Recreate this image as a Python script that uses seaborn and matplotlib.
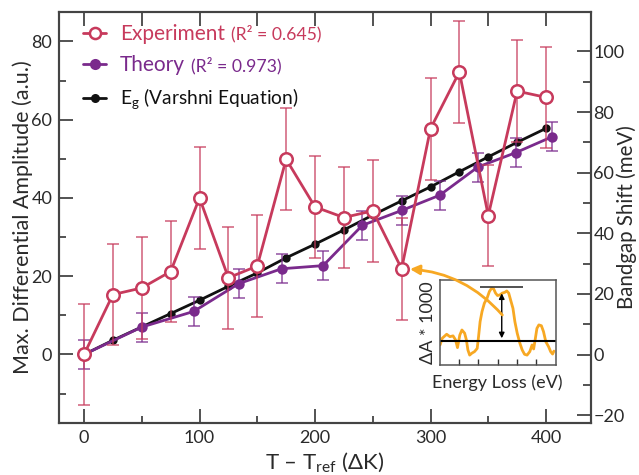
import matplotlib
matplotlib.use("Agg")
import matplotlib.pyplot as plt
import seaborn as sns
import pandas as pd
from matplotlib.lines import Line2D

# ---------------- data ----------------
temps = [0, 25, 50, 75, 100, 125, 150, 175, 200, 225, 250, 275, 300, 325, 350, 375, 400]
exp_amp = [0.0, 15.3, 17.0, 21.2, 40.0, 19.6, 22.6, 49.9, 37.7, 35.0, 36.7, 21.9, 57.7, 72.2, 35.5, 67.3, 65.7]
exp_err = [13.0, 13.0, 13.0, 13.0, 13.0, 13.0, 13.0, 13.0, 13.0, 13.0, 13.0, 13.0, 13.0, 13.0, 13.0, 13.0, 13.0]

theory_T = [0, 50, 95, 134, 171, 207, 241, 275, 308, 341, 374, 405]
theory_amp = [0.0, 7.0, 11.0, 18.1, 21.9, 22.7, 33.0, 36.8, 40.7, 47.9, 51.6, 55.6]
theory_err = [3.7, 3.7, 3.7, 3.7, 3.7, 3.7, 3.7, 3.7, 3.7, 3.7, 3.7, 3.7]

eg_shift = [0.0, 4.7, 9.1, 13.5, 17.9, 22.5, 26.9, 31.9, 36.4, 41.1, 46.0, 50.7, 55.3, 60.3, 65.2, 70.0, 74.6]

inset_E = [0.02, 0.13, 0.36, 0.53, 0.69, 0.82, 0.92, 1.04, 1.15, 1.29, 1.38, 1.46, 1.55, 1.66, 1.80,
           1.94, 2.01, 2.09, 2.19, 2.31, 2.45, 2.57, 2.68, 2.79, 2.89, 2.99, 3.11, 3.24, 3.37, 3.47,
           3.57, 3.67, 3.79, 3.89, 4.01, 4.15, 4.27, 4.39, 4.52, 4.66, 4.78, 4.86, 4.95, 5.03, 5.13,
           5.26, 5.37, 5.49, 5.63, 5.74, 5.84, 5.91]
inset_dA = [-0.16, 0.09, 0.24, 0.15, 0.18, 0.03, -0.26, 0.21, 0.40, 0.28, 0.03, -0.35, -0.54, -0.47, -0.41,
            -0.29, 0.15, 0.71, 1.09, 1.40, 1.59, 1.84, 1.96, 1.94, 1.78, 1.69, 1.71, 1.78, 1.81, 1.86,
            1.78, 1.52, 1.21, 0.71, 0.28, -0.10, -0.35, -0.51, -0.54, -0.41, -0.16, -0.31, 0.09, 0.46, 0.59,
            0.56, 0.34, -0.04, -0.22, -0.41, -0.50, -0.39]
peak_level = 2.0
peak_span = [2.11, 4.32]
arrow_E = 3.21
arrow_range = [0.09, 1.77]

legend_labels = ["Experiment", "Theory", "E$_\\mathregular{g}$ (Varshni Equation)"]
r2_labels = ["(R² = 0.645)", "(R² = 0.973)"]

# ---------------- style ----------------
sns.set_style("ticks")
FONT = 'Lato'
plt.rcParams['font.family'] = [FONT, 'DejaVu Sans']
plt.rcParams['mathtext.fontset'] = 'custom'
plt.rcParams['mathtext.rm'] = FONT

RED = '#c73a5c'
PURPLE = '#7a2a8c'
BLACK = '#111111'
ORANGE = '#f7a823'
SPINE = '#444444'
TXT = '#2a2a2a'

fig = plt.figure(figsize=(6.39, 4.75), dpi=100)
ax = fig.add_axes([0.0928, 0.1088, 0.8316, 0.8666])
ax2 = ax.twinx()
ax2.set_zorder(ax.get_zorder() - 1)
ax.patch.set_visible(False)

# Eg (right axis)
sns.lineplot(x=temps, y=eg_shift, ax=ax2, color=BLACK, marker='o', markersize=6,
             markeredgewidth=0, linewidth=2)

# Theory
ax.errorbar(theory_T, theory_amp, yerr=theory_err, fmt='none', ecolor=PURPLE, alpha=0.75,
            capsize=4, elinewidth=1.2, capthick=1.2)
sns.lineplot(x=theory_T, y=theory_amp, ax=ax, color=PURPLE, marker='o', markersize=7.5,
             markeredgewidth=0, linewidth=2)

# Experiment
ax.errorbar(temps, exp_amp, yerr=exp_err, fmt='none', ecolor=RED, alpha=0.75,
            capsize=4.5, elinewidth=1.2, capthick=1.2)
sns.lineplot(x=temps, y=exp_amp, ax=ax, color=RED, marker='o', markersize=9,
             markerfacecolor='white', markeredgecolor=RED, markeredgewidth=1.8, linewidth=2)

# axes limits & ticks
ax.set_xlim(-21.4, 438.7)
ax.set_ylim(-17.6, 87.6)
ax2.set_ylim(-22.7, 113.1)

ax.set_xticks([0, 100, 200, 300, 400])
ax.set_xticks([50, 150, 250, 350], minor=True)
ax.set_yticks([0, 20, 40, 60, 80])
ax.set_yticks([-10, 10, 30, 50, 70], minor=True)
ax2.set_yticks([-20, 0, 20, 40, 60, 80, 100])
ax2.set_yticks([-10, 10, 30, 50, 70, 90], minor=True)

for a in (ax, ax2):
    for s in a.spines.values():
        s.set_linewidth(1.5)
        s.set_color(SPINE)
ax.tick_params(which='both', direction='in', color=SPINE, width=1.3, labelsize=13,
               labelcolor=TXT, top=False, right=False, left=True, bottom=True, pad=5)
ax.tick_params(which='major', length=10)
ax.tick_params(which='minor', length=5)
ax2.tick_params(which='both', direction='in', color=SPINE, width=1.3, labelsize=13,
                labelcolor=TXT, right=True, left=False, pad=2)
ax2.tick_params(which='major', length=10)
ax2.tick_params(which='minor', length=6)

sec = ax.secondary_xaxis('top')
sec.set_xticks(list(range(0, 401, 50)))
sec.tick_params(direction='in', length=10, width=1.3, color=SPINE, labeltop=False)
sec.spines['top'].set_visible(False)

ax.set_xlabel("T – T$_\\mathregular{ref}$ (ΔK)", fontsize=16, color=TXT, labelpad=3)
ax.set_ylabel("Max. Differential Amplitude (a.u.)", fontsize=15.5, color=TXT, labelpad=-1)
ax2.set_ylabel("Bandgap Shift (meV)", fontsize=14.8, color=TXT, rotation=90, labelpad=-6)

# legend
h1 = Line2D([], [], color=RED, marker='o', mfc='white', mec=RED, mew=1.8, ms=8, lw=2)
h2 = Line2D([], [], color=PURPLE, marker='o', mew=0, ms=8, lw=2)
h3 = Line2D([], [], color=BLACK, marker='o', mew=0, ms=6.5, lw=2)
leg = ax.legend([h1, h2, h3], legend_labels, loc='upper left', bbox_to_anchor=(0.045, 0.97),
                frameon=False, fontsize=15, handlelength=1.1, handletextpad=0.65,
                labelspacing=0.55, borderpad=0, borderaxespad=0)
lt = leg.get_texts()
lt[0].set_color(RED)
lt[1].set_color(PURPLE)
lt[2].set_color(BLACK)
lt[2].set_fontsize(13.8)

fig.canvas.draw()
inv = fig.transFigure.inverted()
for t, lab, c in zip(lt[:2], r2_labels, [RED, PURPLE]):
    bb = t.get_window_extent()
    x0, y0 = inv.transform((bb.x1 + 6, bb.y0 + 0.22 * bb.height))
    fig.text(x0, y0, lab, fontsize=12.7, color=c, ha='left', va='baseline')

# inset
ax_in = fig.add_axes([0.6881, 0.2316, 0.1815, 0.1789])
sns.lineplot(x=inset_E, y=inset_dA, ax=ax_in, color=ORANGE, linewidth=2, sort=False)
ax_in.axhline(0, color='black', lw=1.5)
ax_in.hlines(peak_level, peak_span[0], peak_span[1], color='#333333', lw=1.2)
ax_in.annotate('', xy=(arrow_E, arrow_range[1]), xytext=(arrow_E, arrow_range[0]),
               arrowprops=dict(arrowstyle='<|-|>', color='black', lw=1, mutation_scale=8,
                               shrinkA=0, shrinkB=0))
ax_in.set_xlim(0, 6)
ax_in.set_ylim(-0.91, 2.27)
ax_in.set_xticks([1, 2, 3, 4, 5])
ax_in.set_xticklabels([])
ax_in.set_yticks([])
ax_in.tick_params(direction='in', length=4, width=1, color='#333333')
for s in ax_in.spines.values():
    s.set_linewidth(1.1)
    s.set_color('#555555')
ax_in.set_xlabel("Energy Loss (eV)", fontsize=13, color=TXT, labelpad=3)
ax_in.set_ylabel("ΔA * 1000", fontsize=13, color=TXT, labelpad=3)

# orange arrow from inset to highlighted experiment point
ax_in.annotate('', xy=(temps[11], exp_amp[11]), xycoords=ax.transData,
               xytext=(3.24, 0.96), textcoords='data',
               arrowprops=dict(arrowstyle='-|>', color=ORANGE, lw=2,
                               connectionstyle='arc3,rad=0.22', shrinkA=0, shrinkB=6,
                               mutation_scale=14),
               annotation_clip=False)

fig.savefig("out.png", dpi=100)
